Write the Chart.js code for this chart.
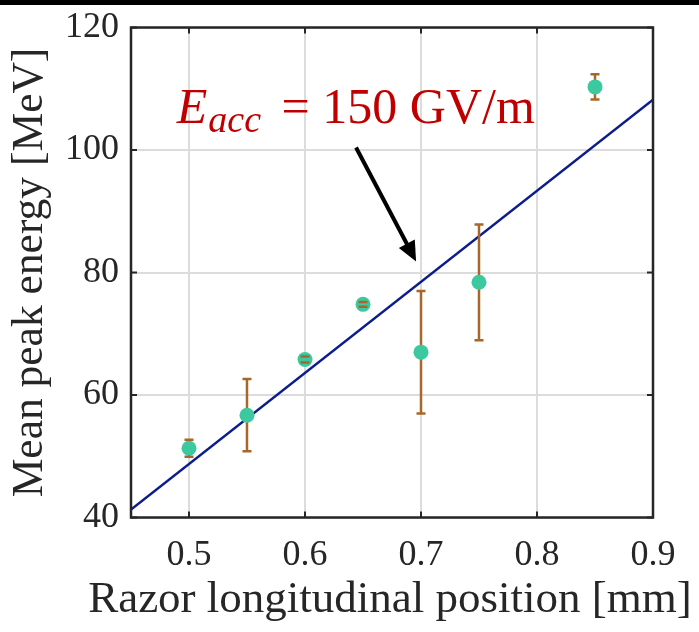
<!DOCTYPE html>
<html>
<head>
<meta charset="utf-8">
<script src="https://cdn.jsdelivr.net/npm/chart.js@4/dist/chart.umd.min.js"></script>
<style>
  html, body { margin: 0; padding: 0; background: #ffffff; }
  #wrap { width: 699px; height: 632px; position: relative; }
  canvas { display: block; }
</style>
</head>
<body>
<div id="wrap"><canvas id="c" width="699" height="632"></canvas></div>
<script>
// ---- data ----
const xPositions = [0.5, 0.55, 0.6, 0.65, 0.7, 0.75, 0.85];
const meanEnergy = [51.3, 56.7, 65.8, 74.8, 67.0, 78.4, 110.3];
const energyErr  = [1.4, 5.9, 0.5, 0.4, 10.0, 9.45, 2.05];
const fitX = [0.45, 0.9];
const fitY = [41.3, 108.2];
const xTickValues = [0.5, 0.6, 0.7, 0.8, 0.9];
const xTickLabels = ['0.5', '0.6', '0.7', '0.8', '0.9'];
const yTickValues = [40, 60, 80, 100, 120];
const yTickLabels = ['40', '60', '80', '100', '120'];
const xTitle = 'Razor longitudinal position [mm]';
const yTitle = 'Mean peak energy [MeV]';
const annotMain = 'E';
const annotSub = 'acc';
const annotRest = ' = 150 GV/m';
const annotAnchor = [0.4895, 104.4];
const arrowFrom = [0.644, 100.4];
const arrowTo = [0.6958, 81.8];

const FONT = '"Liberation Serif", "Times New Roman", serif';
const AXIS_COLOR = '#262626';

const framePlugin = {
  id: 'frame',
  beforeDraw(chart) {
    const ctx = chart.ctx;
    ctx.save();
    ctx.fillStyle = '#ffffff';
    ctx.fillRect(0, 0, chart.width, chart.height);
    ctx.fillStyle = '#000000';
    ctx.fillRect(0, 0, chart.width, 5);
    ctx.restore();
  },
  afterDatasetsDraw(chart) {
    const {ctx, chartArea: a, scales} = chart;
    ctx.save();
    ctx.strokeStyle = AXIS_COLOR;
    ctx.lineWidth = 2;
    const tl = 6;
    ctx.beginPath();
    scales.x.ticks.forEach(t => {
      const px = scales.x.getPixelForValue(t.value);
      ctx.moveTo(px, a.bottom); ctx.lineTo(px, a.bottom - tl);
      ctx.moveTo(px, a.top); ctx.lineTo(px, a.top + tl);
    });
    scales.y.ticks.forEach(t => {
      const py = scales.y.getPixelForValue(t.value);
      ctx.moveTo(a.left, py); ctx.lineTo(a.left + tl, py);
      ctx.moveTo(a.right, py); ctx.lineTo(a.right - tl, py);
    });
    ctx.stroke();
    ctx.lineWidth = 2.5;
    ctx.strokeRect(a.left, a.top, a.right - a.left, a.bottom - a.top);
    ctx.restore();
  },
  afterDraw(chart) {
    // axis titles (drawn without width squeezing)
    const {ctx, chartArea: a} = chart;
    ctx.save();
    ctx.fillStyle = AXIS_COLOR;
    ctx.textBaseline = 'alphabetic';
    ctx.textAlign = 'center';
    ctx.font = '45px ' + FONT;
    ctx.fillText(xTitle, (a.left + a.right) / 2 - 2, a.bottom + 94.5);
    ctx.translate(a.left - 89, (a.top + a.bottom) / 2);
    ctx.rotate(-Math.PI / 2);
    ctx.font = '43.5px ' + FONT;
    ctx.fillText(yTitle, 0, 0);
    ctx.restore();
  }
};

const errorBarPlugin = {
  id: 'errbars',
  beforeDatasetDraw(chart, args) {
    if (args.index !== 1) return;
    const {ctx, scales} = chart;
    ctx.save();
    ctx.strokeStyle = '#a8672a';
    ctx.lineWidth = 2.5;
    ctx.beginPath();
    xPositions.forEach((xv, i) => {
      const px = scales.x.getPixelForValue(xv);
      ctx.moveTo(px, scales.y.getPixelForValue(meanEnergy[i] + energyErr[i]));
      ctx.lineTo(px, scales.y.getPixelForValue(meanEnergy[i] - energyErr[i]));
    });
    ctx.stroke();
    ctx.restore();
  },
  afterDatasetDraw(chart, args) {
    if (args.index !== 1) return;
    const {ctx, scales} = chart;
    ctx.save();
    ctx.strokeStyle = '#a8672a';
    ctx.lineWidth = 2.5;
    const cw = 4.5;
    ctx.beginPath();
    xPositions.forEach((xv, i) => {
      const px = scales.x.getPixelForValue(xv);
      [meanEnergy[i] + energyErr[i], meanEnergy[i] - energyErr[i]].forEach(v => {
        const py = scales.y.getPixelForValue(v);
        ctx.moveTo(px - cw, py); ctx.lineTo(px + cw, py);
      });
    });
    ctx.stroke();
    ctx.restore();
  }
};

const annotationPlugin = {
  id: 'annot',
  afterDraw(chart) {
    const {ctx, scales} = chart;
    ctx.save();
    const x0 = scales.x.getPixelForValue(annotAnchor[0]);
    const y0 = scales.y.getPixelForValue(annotAnchor[1]);
    ctx.fillStyle = '#c00000';
    ctx.textBaseline = 'alphabetic';
    ctx.textAlign = 'left';
    let x = x0;
    ctx.font = 'italic 50px ' + FONT;
    ctx.fillText(annotMain, x, y0);
    x += ctx.measureText(annotMain).width + 1;
    ctx.font = 'italic 38px ' + FONT;
    ctx.fillText(annotSub, x, y0 + 9);
    x += ctx.measureText(annotSub).width + 8;
    ctx.font = '50px ' + FONT;
    ctx.fillText(annotRest, x, y0);

    // arrow
    const ax1 = scales.x.getPixelForValue(arrowFrom[0]);
    const ay1 = scales.y.getPixelForValue(arrowFrom[1]);
    const ax2 = scales.x.getPixelForValue(arrowTo[0]);
    const ay2 = scales.y.getPixelForValue(arrowTo[1]);
    const ang = Math.atan2(ay2 - ay1, ax2 - ax1);
    const hl = 20, hw = 9;
    const bx = ax2 - hl * Math.cos(ang), by = ay2 - hl * Math.sin(ang);
    ctx.strokeStyle = '#000000';
    ctx.lineWidth = 4;
    ctx.beginPath();
    ctx.moveTo(ax1, ay1);
    ctx.lineTo(bx + 2 * Math.cos(ang), by + 2 * Math.sin(ang));
    ctx.stroke();
    ctx.fillStyle = '#000000';
    ctx.beginPath();
    ctx.moveTo(ax2, ay2);
    ctx.lineTo(bx + hw * Math.sin(ang), by - hw * Math.cos(ang));
    ctx.lineTo(bx - hw * Math.sin(ang), by + hw * Math.cos(ang));
    ctx.closePath();
    ctx.fill();
    ctx.restore();
  }
};

Chart.defaults.font.family = FONT;
Chart.defaults.color = AXIS_COLOR;

new Chart(document.getElementById('c'), {
  type: 'scatter',
  data: {
    datasets: [
      {
        type: 'line',
        data: fitX.map((x, i) => ({x, y: fitY[i]})),
        borderColor: '#0c1c8c',
        borderWidth: 2.5,
        pointRadius: 0,
        fill: false,
        order: 2
      },
      {
        type: 'scatter',
        data: xPositions.map((x, i) => ({x, y: meanEnergy[i]})),
        backgroundColor: '#3dc9a0',
        borderColor: '#3dc9a0',
        borderWidth: 0,
        pointRadius: 7.5,
        order: 1
      }
    ]
  },
  options: {
    responsive: false,
    animation: false,
    devicePixelRatio: 1,
    layout: { padding: { left: 0, right: 46, top: 27.5, bottom: 0 } },
    plugins: { legend: { display: false }, tooltip: { enabled: false } },
    scales: {
      x: {
        type: 'linear',
        min: 0.45, max: 0.9,
        afterBuildTicks: s => { s.ticks = xTickValues.map(v => ({value: v})); },
        afterFit: s => { s.height = 114.5; s.paddingLeft = 0; s.paddingRight = 0; },
        grid: { color: '#dcdcdc', lineWidth: 2, drawTicks: false },
        border: { display: false },
        ticks: {
          padding: 16,
          maxRotation: 0,
          autoSkip: false,
          font: { size: 36 },
          color: AXIS_COLOR,
          callback: (v, i) => xTickLabels[i]
        },
        title: { display: false }
      },
      y: {
        type: 'linear',
        min: 40, max: 120,
        afterBuildTicks: s => { s.ticks = yTickValues.map(v => ({value: v})); },
        afterFit: s => { s.width = 131; s.paddingTop = 0; s.paddingBottom = 0; },
        grid: { color: '#dcdcdc', lineWidth: 2, drawTicks: false },
        border: { display: false },
        ticks: {
          padding: 12,
          font: { size: 36 },
          color: AXIS_COLOR,
          callback: (v, i) => yTickLabels[i]
        },
        title: { display: false }
      }
    }
  },
  plugins: [framePlugin, errorBarPlugin, annotationPlugin]
});
</script>
</body>
</html>
